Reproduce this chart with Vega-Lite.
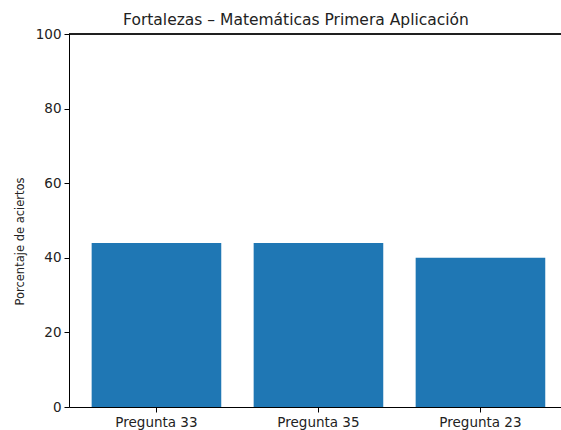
{
  "$schema": "https://vega.github.io/schema/vega-lite/v6.json",
  "autosize": {"type": "none"},
  "padding": {"left": 69, "top": 34, "right": 0, "bottom": 23},
  "width": 492,
  "height": 373,
  "background": "white",
  "config": {
    "view": {"stroke": null},
    "font": "DejaVu Sans",
    "axis": {
      "domainColor": "black",
      "tickColor": "black",
      "labelColor": "#222",
      "titleColor": "#222",
      "labelFont": "DejaVu Sans",
      "titleFont": "DejaVu Sans",
      "titleFontWeight": "normal",
      "grid": false,
      "tickSize": 5,
      "labelFontSize": 13.5,
      "titleFontSize": 11.5
    }
  },
  "title": {
    "text": "Fortalezas – Matemáticas Primera Aplicación",
    "font": "DejaVu Sans",
    "fontSize": 15.5,
    "fontWeight": "normal",
    "color": "#222",
    "anchor": "middle",
    "dx": -19,
    "offset": -1
  },
  "data": {
    "values": [
      {"pregunta": "Pregunta 33", "porcentaje": 44},
      {"pregunta": "Pregunta 35", "porcentaje": 44},
      {"pregunta": "Pregunta 23", "porcentaje": 40}
    ]
  },
  "layer": [
    {
      "mark": {"type": "bar", "color": "#1f77b4"},
      "encoding": {
        "x": {
          "field": "pregunta",
          "type": "nominal",
          "sort": null,
          "scale": {"paddingInner": 0.2, "paddingOuter": 0.1185, "align": 0.59},
          "axis": {"title": null, "labelAngle": 0, "labelPadding": 3}
        },
        "y": {
          "field": "porcentaje",
          "type": "quantitative",
          "scale": {"domain": [0, 100], "nice": false},
          "axis": {"title": "Porcentaje de aciertos", "values": [0, 20, 40, 60, 80, 100], "labelPadding": 3, "titlePadding": 10, "titleY": 207}
        }
      }
    },
    {
      "mark": {"type": "rule", "color": "black", "strokeWidth": 1},
      "encoding": {"y": {"datum": 100}}
    }
  ]
}
